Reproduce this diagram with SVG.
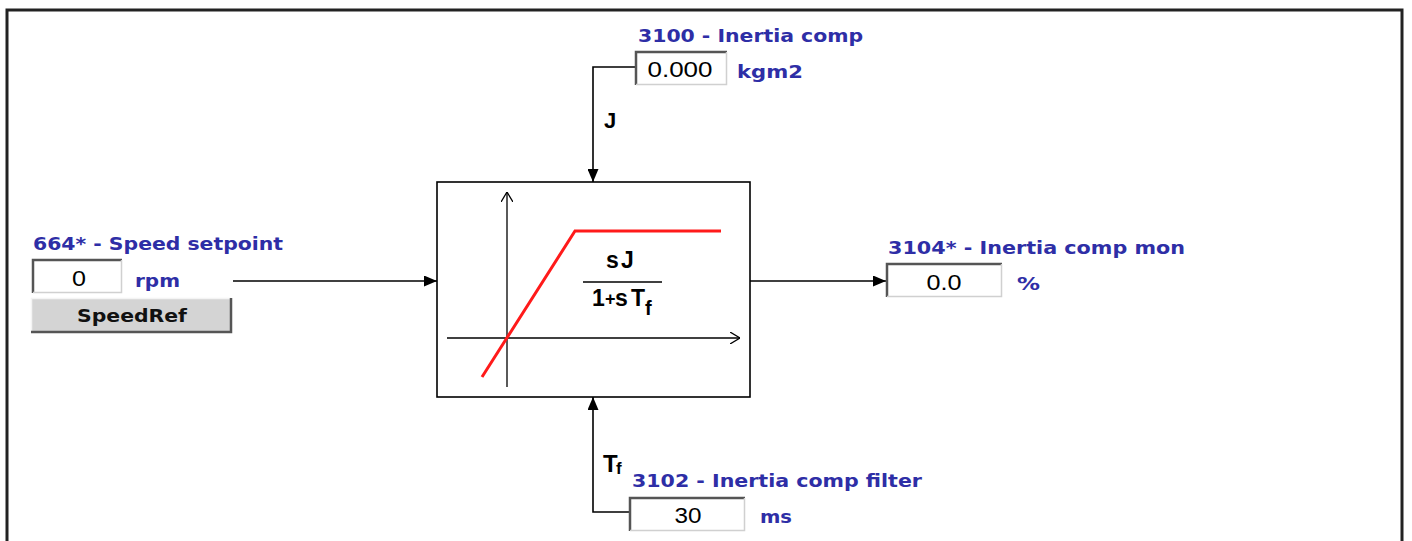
<svg xmlns="http://www.w3.org/2000/svg" width="1412" height="541" viewBox="0 0 1412 541">
<defs>
<style>
.lbl{font-family:"DejaVu Sans",Verdana,sans-serif;font-weight:bold;font-size:17px;fill:#2e2ea6}
.val{font-family:"Liberation Sans",Arial,sans-serif;font-size:22px;fill:#000}
.sym{font-family:"Liberation Sans",Arial,sans-serif;font-weight:bold;fill:#000}
.btn{font-family:"DejaVu Sans",Verdana,sans-serif;font-weight:bold;font-size:17px;fill:#111}
.wire{fill:none;stroke:#000;stroke-width:1.6}
.axis{fill:none;stroke:#000;stroke-width:1.3}
</style>
<marker id="arr" viewBox="0 0 13 11" refX="13" refY="5.5" markerWidth="13" markerHeight="11" markerUnits="userSpaceOnUse" orient="auto">
<path d="M0,0 L13,5.5 L0,11 Z" fill="#000"/>
</marker>
<marker id="open" viewBox="0 0 10 12" refX="10" refY="6" markerWidth="10" markerHeight="12" markerUnits="userSpaceOnUse" orient="auto">
<path d="M0,0 L10,6 L0,12" fill="none" stroke="#000" stroke-width="1.3"/>
</marker>
</defs>
<rect width="1412" height="541" fill="#fff"/>
<path d="M7,541 V10 H1402 V541" fill="none" stroke="#222" stroke-width="3"/>

<g id="connectors">
<path class="wire" d="M635,67 H593 V182" marker-end="url(#arr)"/>
<path class="wire" d="M233,281 H437" marker-end="url(#arr)"/>
<path class="wire" d="M750,281 H886" marker-end="url(#arr)"/>
<path class="wire" d="M629,512 H593 V397" marker-end="url(#arr)"/>
</g>

<g id="block">
<rect x="437" y="182" width="313" height="215" fill="#fff" stroke="#000" stroke-width="1.6"/>
<path class="axis" d="M507,387 V192" marker-end="url(#open)"/>
<path class="axis" d="M447,338 H740" marker-end="url(#open)"/>
<path d="M482,377 L575,231 H721" fill="none" stroke="#ff1a1a" stroke-width="3"/>
<text class="sym" y="268" font-size="23"><tspan x="606">s</tspan><tspan x="621">J</tspan></text>
<line x1="583" y1="282" x2="662" y2="282" stroke="#000" stroke-width="1.6"/>
<text class="sym" y="306" font-size="23"><tspan x="592">1</tspan><tspan x="605" font-size="18" dy="-1">+</tspan><tspan x="615" dy="1">s</tspan><tspan x="631">T</tspan></text>
<text class="sym" x="645" y="315" font-size="20">f</text>
</g>

<g id="inertia-comp">
<text class="lbl" x="638" y="42" textLength="225" lengthAdjust="spacingAndGlyphs">3100 - Inertia comp</text>
<rect x="635" y="51" width="92" height="34" fill="#fff"/>
<path d="M636,85 V52 H727" fill="none" stroke="#555" stroke-width="2.5"/>
<path d="M636,84.5 H726.5 V52" fill="none" stroke="#d0d0d0" stroke-width="1.5"/>
<text class="val" x="680" y="77" text-anchor="middle" textLength="65" lengthAdjust="spacingAndGlyphs">0.000</text>
<text class="lbl" x="737" y="78" textLength="66" lengthAdjust="spacingAndGlyphs">kgm2</text>
<text class="sym" x="604" y="128" font-size="22">J</text>
</g>

<g id="speed-setpoint">
<text class="lbl" x="33" y="250" textLength="250" lengthAdjust="spacingAndGlyphs">664* - Speed setpoint</text>
<rect x="32" y="259" width="90" height="34" fill="#fff"/>
<path d="M33,293 V260 H122" fill="none" stroke="#555" stroke-width="2.5"/>
<path d="M33,292.5 H121.5 V260" fill="none" stroke="#d0d0d0" stroke-width="1.5"/>
<text class="val" x="79" y="286" text-anchor="middle" textLength="14" lengthAdjust="spacingAndGlyphs">0</text>
<text class="lbl" x="135" y="287" textLength="45" lengthAdjust="spacingAndGlyphs">rpm</text>
</g>

<g id="speedref-button">
<rect x="31" y="298" width="201" height="35" fill="#d4d4d4"/>
<path d="M31.5,333 V298.5 H231" fill="none" stroke="#f4f4f4" stroke-width="1.5"/>
<path d="M31,332 H231 V298" fill="none" stroke="#555" stroke-width="2.5"/>
<text class="btn" x="132" y="322" text-anchor="middle" textLength="110" lengthAdjust="spacingAndGlyphs">SpeedRef</text>
</g>

<g id="inertia-comp-mon">
<text class="lbl" x="888" y="254" textLength="297" lengthAdjust="spacingAndGlyphs">3104* - Inertia comp mon</text>
<rect x="886" y="263" width="116" height="34" fill="#fff"/>
<path d="M887,297 V264 H1002" fill="none" stroke="#555" stroke-width="2.5"/>
<path d="M887,296.5 H1001.5 V264" fill="none" stroke="#d0d0d0" stroke-width="1.5"/>
<text class="val" x="944" y="290" text-anchor="middle" textLength="35" lengthAdjust="spacingAndGlyphs">0.0</text>
<text class="lbl" x="1017" y="290" textLength="23" lengthAdjust="spacingAndGlyphs">%</text>
</g>

<g id="inertia-comp-filter">
<text class="sym" x="603" y="472" font-size="24">T</text>
<text class="sym" x="616" y="474" font-size="17">f</text>
<text class="lbl" x="632" y="487" textLength="290" lengthAdjust="spacingAndGlyphs">3102 - Inertia comp filter</text>
<rect x="629" y="497" width="116" height="34" fill="#fff"/>
<path d="M630,531 V498 H745" fill="none" stroke="#555" stroke-width="2.5"/>
<path d="M630,530.5 H744.5 V498" fill="none" stroke="#d0d0d0" stroke-width="1.5"/>
<text class="val" x="688" y="523" text-anchor="middle" textLength="27" lengthAdjust="spacingAndGlyphs">30</text>
<text class="lbl" x="760" y="523" textLength="32" lengthAdjust="spacingAndGlyphs">ms</text>
</g>
</svg>
